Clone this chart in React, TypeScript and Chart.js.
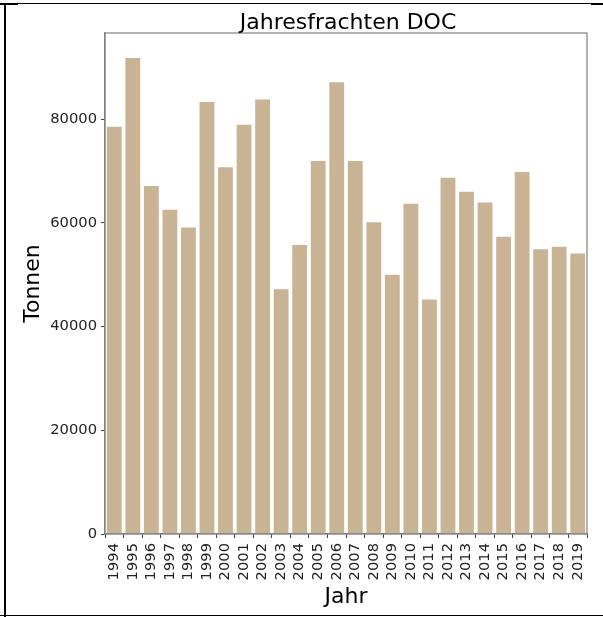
import React, { useEffect, useRef } from "react";
import { Chart, registerables } from "chart.js";

Chart.register(...registerables);

const YEARS: string[] = [
  "1994", "1995", "1996", "1997", "1998", "1999", "2000", "2001", "2002",
  "2003", "2004", "2005", "2006", "2007", "2008", "2009", "2010", "2011",
  "2012", "2013", "2014", "2015", "2016", "2017", "2018", "2019",
];
const LOADS: number[] = [
  78500, 91800, 67100, 62500, 59100, 83300, 70700, 78900, 83800,
  47200, 55700, 71900, 87100, 71900, 60100, 50000, 63700, 45200,
  68700, 66000, 63900, 57300, 69800, 54900, 55400, 54100,
];
const Y_TICKS: number[] = [0, 20000, 40000, 60000, 80000];
const Y_MAX = 96600;
const TITLE = "Jahresfrachten DOC";
const X_TITLE = "Jahr";
const Y_TITLE = "Tonnen";

const FONT = "'DejaVu Sans', sans-serif";
const BAR_COLOR = "#C9B395";
const SPINE = "#808080";
const TEXT = "#222222";

const W = 603;
const H = 617;
const AREA_LEFT = 105;
const AREA_RIGHT = 587;
const AREA_TOP = 33;
const AREA_BOTTOM = 534;

const framePlugin = {
  id: "frameAndTitle",
  afterDraw(chart: any) {
    const { ctx, chartArea } = chart;
    ctx.save();
    ctx.strokeStyle = SPINE;
    ctx.lineWidth = 1.2;
    ctx.strokeRect(
      chartArea.left,
      chartArea.top,
      chartArea.right - chartArea.left,
      chartArea.bottom - chartArea.top
    );
    ctx.fillStyle = "#000";
    ctx.font = `22px ${FONT}`;
    ctx.textAlign = "center";
    ctx.textBaseline = "alphabetic";
    ctx.fillText(TITLE, (chartArea.left + chartArea.right) / 2 + 2, chartArea.top - 4);
    ctx.restore();
  },
};

export default function App() {
  const ref = useRef<HTMLCanvasElement | null>(null);

  useEffect(() => {
    if (!ref.current) return;
    const chart = new Chart(ref.current, {
      type: "bar",
      data: {
        labels: YEARS,
        datasets: [
          {
            data: LOADS,
            backgroundColor: BAR_COLOR,
            borderWidth: 0,
            categoryPercentage: 1,
            barPercentage: 0.8,
          },
        ],
      },
      options: {
        animation: false,
        responsive: false,
        layout: {
          padding: { top: AREA_TOP, right: W - AREA_RIGHT, left: 0, bottom: 0 },
        },
        plugins: {
          legend: { display: false },
          tooltip: { enabled: false },
          title: { display: false },
        },
        scales: {
          x: {
            offset: true,
            grid: {
              display: true,
              drawOnChartArea: false,
              drawTicks: true,
              tickLength: 4,
              color: "#444",
            },
            border: { display: true, color: SPINE, width: 1.2 },
            ticks: {
              autoSkip: false,
              minRotation: 90,
              maxRotation: 90,
              padding: 5,
              color: TEXT,
              font: { family: FONT, size: 14.7 },
            },
            title: {
              display: true,
              text: X_TITLE,
              color: "#000",
              font: { family: FONT, size: 22 },
              padding: { top: 0, bottom: 7 },
            },
            afterFit: (s: any) => {
              s.height = H - AREA_BOTTOM;
            },
          },
          y: {
            min: 0,
            max: Y_MAX,
            grid: {
              display: true,
              drawOnChartArea: false,
              drawTicks: true,
              tickLength: 4,
              color: "#444",
            },
            border: { display: true, color: SPINE, width: 1.2 },
            ticks: {
              padding: 4,
              color: TEXT,
              font: { family: FONT, size: 14.7 },
              callback: (v: any) => String(v),
            },
            afterBuildTicks: (s: any) => {
              s.ticks = Y_TICKS.map((v) => ({ value: v }));
            },
            title: {
              display: true,
              text: Y_TITLE,
              color: "#000",
              font: { family: FONT, size: 22 },
              padding: { top: 20, bottom: 0 },
            },
            afterFit: (s: any) => {
              s.width = AREA_LEFT;
            },
          },
        },
      },
      plugins: [framePlugin],
    });
    return () => chart.destroy();
  }, []);

  return (
    <div style={{ position: "absolute", left: 0, top: 0, width: W, height: H, background: "#fff" }}>
      <canvas ref={ref} width={W} height={H} style={{ display: "block" }} />
      <div style={{ position: "absolute", left: 0, top: 3, width: W, height: 1, background: "#000" }} />
      <div style={{ position: "absolute", left: 0, top: 3, width: 18, height: 2, background: "#000" }} />
      <div style={{ position: "absolute", left: 591, top: 3, width: 12, height: 2, background: "#000" }} />
      <div style={{ position: "absolute", left: 4, top: 4, width: 2, height: H - 4, background: "#000" }} />
      <div style={{ position: "absolute", left: 0, top: 615, width: W, height: 1, background: "#000" }} />
    </div>
  );
}
